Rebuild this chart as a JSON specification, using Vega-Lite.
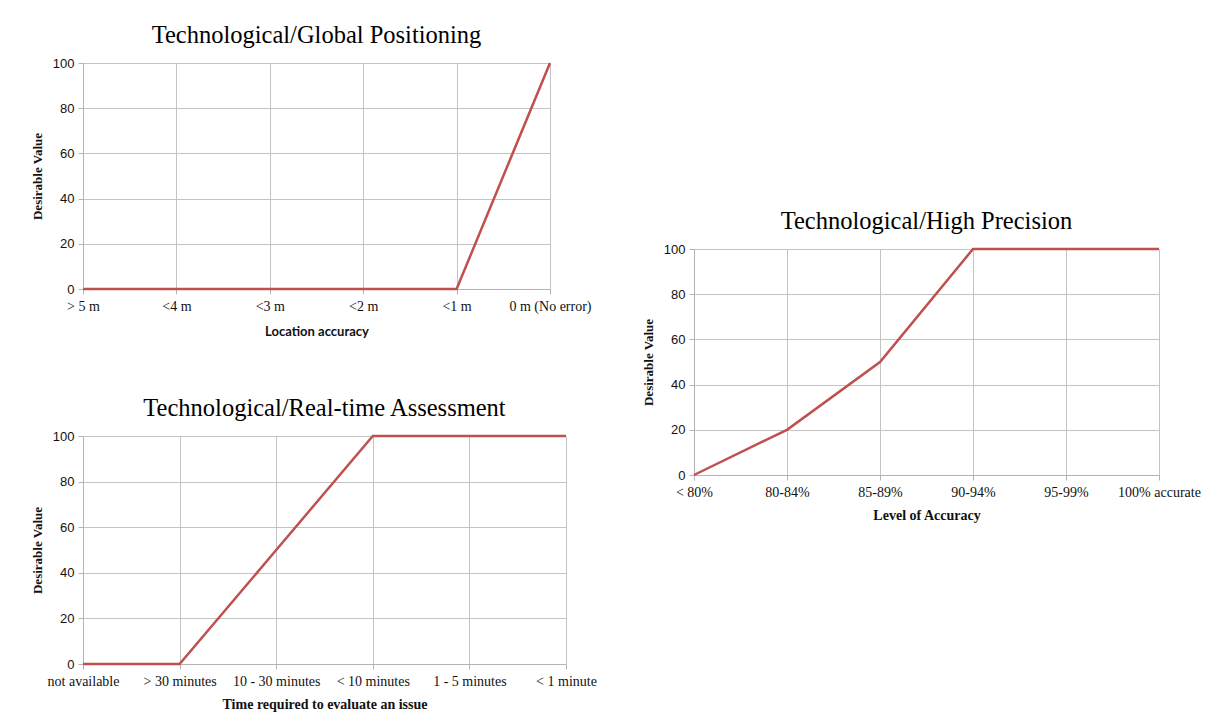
{
  "$schema": "https://vega.github.io/schema/vega-lite/v6.json",
  "background": "white",
  "padding": {"left": 31, "top": 22, "right": 5, "bottom": 5},
  "datasets": {
    "gps": [
      {"accuracy": "> 5 m", "value": 0},
      {"accuracy": "<4 m", "value": 0},
      {"accuracy": "<3 m", "value": 0},
      {"accuracy": "<2 m", "value": 0},
      {"accuracy": "<1 m", "value": 0},
      {"accuracy": "0 m (No error)", "value": 100}
    ],
    "precision": [
      {"level": "< 80%", "value": 0},
      {"level": "80-84%", "value": 20},
      {"level": "85-89%", "value": 50},
      {"level": "90-94%", "value": 100},
      {"level": "95-99%", "value": 100},
      {"level": "100% accurate", "value": 100}
    ],
    "realtime": [
      {"time": "not available", "value": 0},
      {"time": "> 30 minutes", "value": 0},
      {"time": "10 - 30 minutes", "value": 50},
      {"time": "< 10 minutes", "value": 100},
      {"time": "1 - 5 minutes", "value": 100},
      {"time": "< 1 minute", "value": 100}
    ],
    "blank": [{"k": ""}]
  },
  "config": {
    "view": {"stroke": null},
    "axis": {
      "gridColor": "#c4c4c4",
      "domainColor": "#b4b4b4",
      "tickColor": "#b4b4b4",
      "labelColor": "#111111",
      "titleColor": "#111111",
      "tickSize": 5
    },
    "axisX": {
      "labelAngle": 0,
      "labelFont": "Liberation Serif",
      "labelFontSize": 14,
      "labelPadding": 5,
      "titleFont": "Liberation Serif",
      "titleFontWeight": "bold",
      "titleFontSize": 14,
      "titlePadding": 9,
      "grid": true
    },
    "axisY": {
      "labelFont": "Liberation Sans",
      "labelFontSize": 13,
      "labelPadding": 4,
      "titleFont": "Liberation Serif",
      "titleFontWeight": "bold",
      "titleFontSize": 13,
      "titlePadding": 8,
      "values": [0, 20, 40, 60, 80, 100]
    },
    "title": {
      "font": "Liberation Serif",
      "fontSize": 24.5,
      "fontWeight": "normal",
      "color": "#000000",
      "offset": 9
    },
    "line": {"color": "#c0504d", "strokeWidth": 2.5}
  },
  "spacing": 45,
  "hconcat": [
    {
      "spacing": 57,
      "vconcat": [
        {
          "data": {"name": "gps"},
          "title": "Technological/Global Positioning",
          "width": 467,
          "height": 226,
          "mark": {"type": "line"},
          "encoding": {
            "x": {
              "field": "accuracy",
              "type": "nominal",
              "sort": null,
              "scale": {"type": "point", "padding": 0},
              "axis": {
                "title": "Location accuracy",
                "titleFont": "Lato",
                "titleFontSize": 13,
                "titlePadding": 12
              }
            },
            "y": {
              "field": "value",
              "type": "quantitative",
              "scale": {"domain": [0, 100]},
              "axis": {"title": "Desirable Value"}
            }
          }
        },
        {
          "data": {"name": "realtime"},
          "title": "Technological/Real-time Assessment",
          "width": 483,
          "height": 228,
          "mark": {"type": "line"},
          "encoding": {
            "x": {
              "field": "time",
              "type": "nominal",
              "sort": null,
              "scale": {"type": "point", "padding": 0},
              "axis": {"title": "Time required  to evaluate an issue"}
            },
            "y": {
              "field": "value",
              "type": "quantitative",
              "scale": {"domain": [0, 100]},
              "axis": {"title": "Desirable Value"}
            }
          }
        }
      ]
    },
    {
      "spacing": 0,
      "vconcat": [
        {
          "data": {"name": "blank"},
          "width": 10,
          "height": 145,
          "mark": {"type": "text", "text": ""},
          "encoding": {}
        },
        {
          "data": {"name": "precision"},
          "title": "Technological/High Precision",
          "width": 465,
          "height": 226,
          "mark": {"type": "line"},
          "encoding": {
            "x": {
              "field": "level",
              "type": "nominal",
              "sort": null,
              "scale": {"type": "point", "padding": 0},
              "axis": {"title": "Level of Accuracy"}
            },
            "y": {
              "field": "value",
              "type": "quantitative",
              "scale": {"domain": [0, 100]},
              "axis": {"title": "Desirable Value"}
            }
          }
        }
      ]
    }
  ]
}
